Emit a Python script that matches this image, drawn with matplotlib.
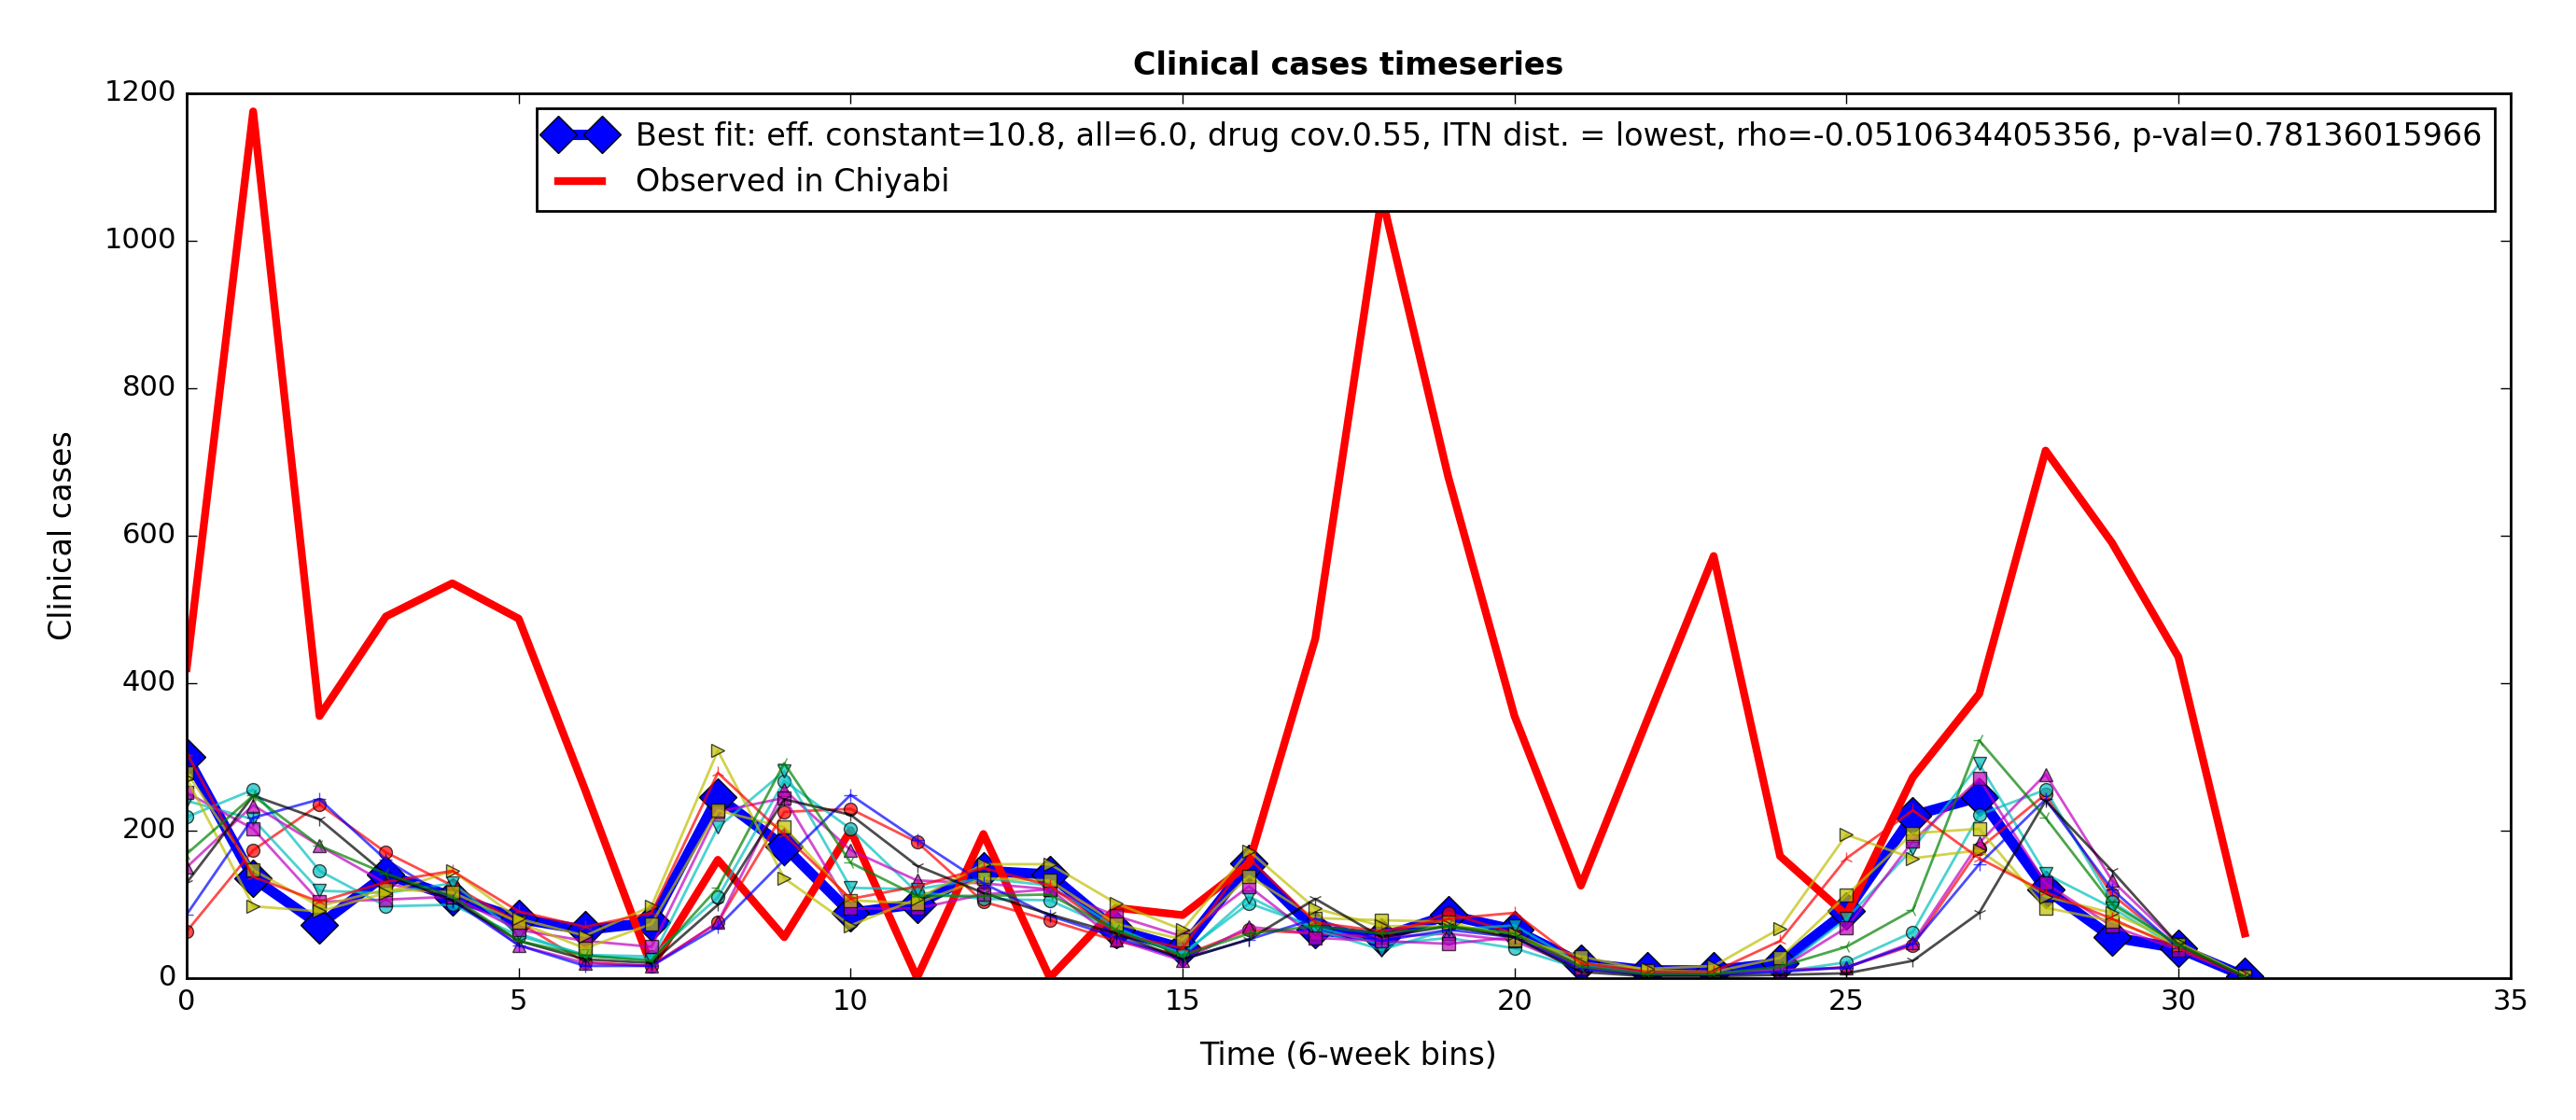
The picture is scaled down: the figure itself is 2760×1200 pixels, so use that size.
import numpy as np
import matplotlib
matplotlib.use("Agg")
import matplotlib.pyplot as plt

plt.style.use('classic')

time_bins = np.arange(32)

best_fit = [300, 135, 72, 140, 110, 80, 65, 75, 245, 178, 88, 100, 145, 140, 65, 40,
            155, 65, 55, 85, 65, 20, 10, 10, 20, 90, 220, 245, 120, 55, 40, 2]
observed = [420, 1175, 355, 490, 535, 487, 255, 15, 160, 55, 200, 0, 195, 0, 95, 85,
            155, 460, 1060, 680, 355, 125, 350, 572, 165, 85, 272, 385, 715, 590, 435, 60]

# individual simulation runs
sim_red_o = [63, 173, 235, 170, 125, 75, 21, 16, 75, 225, 229, 184, 103, 78, 50, 30,
             65, 60, 55, 88, 60, 15, 5, 5, 10, 14, 44, 175, 249, 113, 40, 2]
sim_cyan_o = [218, 255, 145, 97, 99, 57, 31, 29, 109, 267, 202, 116, 107, 105, 65, 33,
              101, 69, 45, 54, 40, 12, 4, 4, 8, 21, 62, 221, 255, 103, 45, 3]
sim_mag_up = [150, 234, 179, 128, 110, 44, 20, 16, 75, 255, 173, 132, 128, 120, 52, 23,
              69, 60, 55, 60, 50, 12, 4, 4, 10, 14, 48, 183, 276, 132, 45, 2]
sim_cyan_down = [240, 215, 118, 115, 128, 60, 30, 25, 204, 280, 122, 120, 135, 125, 68, 30,
                 110, 65, 38, 65, 71, 18, 6, 6, 12, 80, 175, 290, 141, 95, 40, 2]
sim_mag_sq = [251, 202, 103, 106, 110, 65, 50, 42, 225, 244, 94, 94, 113, 120, 84, 56,
              124, 54, 50, 46, 55, 14, 5, 5, 12, 68, 185, 270, 128, 70, 38, 1]
sim_yel_sq = [278, 146, 97, 120, 116, 75, 40, 73, 227, 204, 105, 101, 135, 132, 73, 52,
              138, 81, 78, 76, 52, 29, 10, 8, 27, 112, 196, 202, 95, 77, 45, 2]
sim_yel_right = [270, 97, 90, 115, 145, 80, 57, 97, 308, 135, 71, 107, 154, 154, 101, 65,
                 172, 94, 70, 70, 60, 20, 12, 16, 67, 194, 162, 173, 110, 88, 48, 3]
sim_blue_plus = [86, 217, 242, 160, 105, 44, 16, 16, 69, 160, 248, 187, 128, 84, 55, 25,
                 52, 80, 50, 65, 55, 12, 4, 4, 8, 14, 46, 154, 242, 120, 40, 2]
sim_red_tri = [305, 137, 103, 130, 145, 90, 69, 88, 278, 194, 107, 124, 149, 125, 60, 40,
               162, 75, 63, 80, 88, 20, 8, 8, 50, 162, 227, 162, 116, 80, 40, 2]
sim_black_tri = [129, 247, 215, 140, 105, 50, 25, 20, 99, 242, 221, 152, 115, 86, 60, 25,
                 52, 107, 55, 70, 55, 8, 2, 2, 4, 6, 23, 88, 240, 145, 45, 1]
sim_green_tri = [168, 247, 179, 141, 110, 50, 30, 23, 122, 291, 156, 111, 111, 113, 65, 30,
                 60, 70, 60, 70, 60, 15, 5, 5, 15, 42, 92, 322, 217, 100, 45, 2]

sims = [
    (sim_red_o, 'r', 'o'),
    (sim_cyan_o, 'c', 'o'),
    (sim_mag_up, 'm', '^'),
    (sim_cyan_down, 'c', 'v'),
    (sim_mag_sq, 'm', 's'),
    (sim_yel_sq, 'y', 's'),
    (sim_yel_right, 'y', '>'),
    (sim_blue_plus, 'b', '+'),
    (sim_red_tri, 'r', '2'),
    (sim_black_tri, 'k', '1'),
    (sim_green_tri, 'g', '3'),
]

fig = plt.figure(figsize=(13.8, 6), dpi=200, facecolor='white')
ax = fig.add_axes([0.0725, 0.127, 0.902, 0.79])

ax.plot(time_bins, best_fit, color='b', marker='D', markersize=10, linewidth=4,
        label='Best fit: eff. constant=10.8, all=6.0, drug cov.0.55, ITN dist. = lowest, '
              'rho=-0.0510634405356, p-val=0.78136015966')
ax.plot(time_bins, observed, color='r', linewidth=3, label='Observed in Chiyabi')

for vals, col, mk in sims:
    ax.plot(time_bins, vals, color=col, marker=mk, markersize=5, linewidth=1, alpha=0.7)

ax.set_xlim(0, 35)
ax.set_ylim(0, 1200)
ax.set_xlabel('Time (6-week bins)', fontsize=12, labelpad=10)
ax.set_ylabel('Clinical cases', fontsize=12, labelpad=10)
ax.set_title('Clinical cases timeseries', fontsize=12, fontweight='bold', pad=7)
ax.tick_params(labelsize=11)
ax.legend(loc='upper right', fontsize=12)

fig.savefig('out.png', dpi=200, facecolor='white')
